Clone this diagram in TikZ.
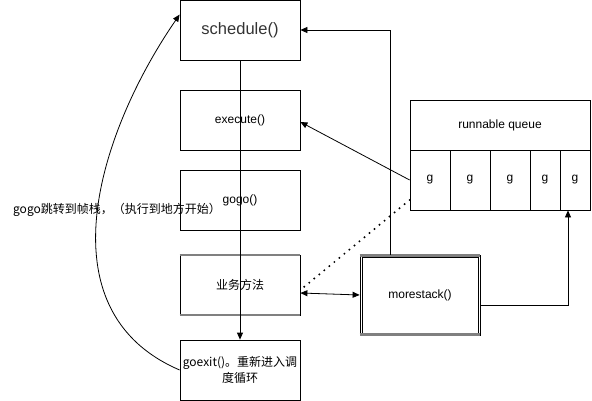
\documentclass[tikz,border=0pt]{standalone}
\usepackage{fontspec}
\setmainfont{Liberation Sans}
\newfontfamily\cjk{Noto Sans CJK SC}
\usetikzlibrary{arrows.meta}
\begin{document}
\begin{tikzpicture}[x=1pt,y=-1pt,
  box/.style={draw, line width=0.8pt, minimum width=120pt, minimum height=60pt, inner sep=0pt, font=\fontsize{12}{14}\selectfont},
  cell/.style={draw, line width=0.8pt, minimum height=60pt, inner sep=0pt, font=\fontsize{12}{14}\selectfont},
  grayedge/.style={draw=black!50, line width=2pt},
  arr/.style={-{Triangle[length=7pt,width=6pt]}, line width=0.8pt},
  darr/.style={{Triangle[length=7pt,width=6pt]}-{Triangle[length=7pt,width=6pt]}, line width=0.8pt}]
\useasboundingbox (0,0) rectangle (592,401);
% left column
\node[box, font=\fontsize{16.5}{18}\selectfont, text=black!80] (sch) at (240,30) {schedule()};
\node[box] (ex) at (240,120) {execute()};
\node[box] (gogo) at (240,200) {gogo()};
\node[box] (biz) at (240,285) {\cjk 业务方法};
\draw[grayedge] (biz.north west) -- (biz.north east);
\draw[grayedge] (biz.south west) -- (biz.south east);
\node[box, minimum height=60pt, align=center, font=\fontsize{12}{16.5}\selectfont] (gx) at (240,370) {\cjk goexit()。重新进入调\\\cjk 度循环};
% queue
\node[box, minimum width=180pt, minimum height=50pt] (q) at (500,125) {runnable queue};
\node[cell, minimum width=40pt] (g1) at (430,180) {g};
\node[cell, minimum width=40pt] (g2) at (470,180) {g};
\node[cell, minimum width=40pt] (g3) at (510,180) {g};
\node[cell, minimum width=30pt] (g4) at (545,180) {g};
\node[cell, minimum width=30pt] (g5) at (575,180) {g};
% morestack
\node[box, minimum height=80pt] (ms) at (420,295) {morestack()};
\draw[line width=0.8pt] ([xshift=2.5pt,yshift=-2.5pt]ms.north west) rectangle ([xshift=-2.5pt,yshift=2.5pt]ms.south east);
\draw[grayedge, line width=2.5pt] ([yshift=-1pt]ms.north west) -- ([yshift=-1pt]ms.north east);
\draw[grayedge, line width=2.5pt] ([yshift=1pt]ms.south west) -- ([yshift=1pt]ms.south east);
% label
\node[font=\cjk\fontsize{12}{14}\selectfont, inner sep=0pt] (lbl) at (117,210) {gogo跳转到帧栈，（执行到地方开始）};
% connectors
\draw[arr] (sch.south) -- (gx.north);
\draw[arr] ([xshift=-30pt]ms.north) |- (sch.east);
\draw[arr] (g1.west) -- ([yshift=-2pt]ex.east);
\draw[line width=2.2pt, dash pattern=on 0pt off 6.5pt, line cap=round] ([yshift=-20pt]g1.west) -- ([yshift=-5pt]biz.east);
\draw[darr] ([yshift=-8pt]biz.east) -- (ms.west);
\draw[arr] ([yshift=-10pt]ms.east) -| ([xshift=-7pt]g5.south);
\draw[arr] (gx.west) .. controls (40,310) and (100,130) .. ([yshift=-15pt]sch.north west);
\end{tikzpicture}
\end{document}
